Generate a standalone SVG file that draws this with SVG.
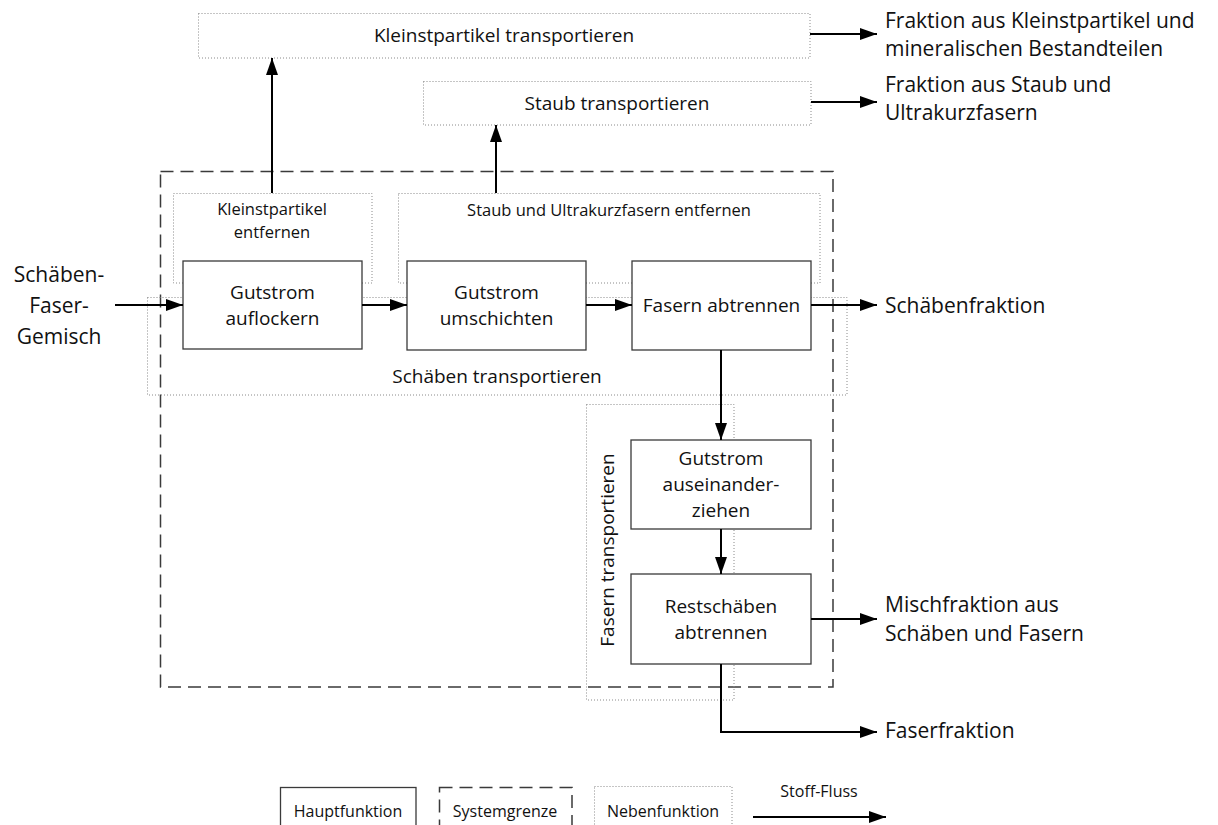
<svg xmlns="http://www.w3.org/2000/svg" width="1218" height="825" viewBox="0 0 1218 825">
<style>
text{font-family:"Open Sans","Noto Sans","Liberation Sans",sans-serif;fill:#111;}
.big{font-size:21px;}
.mid{font-size:19px;text-anchor:middle;}
.sm{font-size:16.5px;text-anchor:middle;}
.lg{font-size:16px;text-anchor:middle;}
.main{fill:#fff;stroke:#3a3a3a;stroke-width:1.3;}
.side{fill:none;stroke:#8a8a8a;stroke-width:1;stroke-dasharray:1 2;}
.sys{fill:none;stroke:#3a3a3a;stroke-width:1.5;stroke-dasharray:13 7;}
.flow{fill:none;stroke:#000;stroke-width:2;marker-end:url(#ah);}
</style>
<defs>
<marker id="ah" markerUnits="userSpaceOnUse" markerWidth="17" markerHeight="12" refX="17" refY="6" orient="auto">
<path d="M0,0 L17,6 L0,12 z" fill="#000"/>
</marker>
</defs>

<g id="system-boundary">
<rect class="sys" x="160.5" y="171.5" width="672.5" height="515.5"/>
</g>

<g id="side-kleinst-transport">
<rect class="side" x="198.5" y="13.5" width="611.5" height="44.5"/>
<text class="mid" x="504" y="42">Kleinstpartikel transportieren</text>
</g>
<g id="side-staub-transport">
<rect class="side" x="423.5" y="81.5" width="387.5" height="43.5"/>
<text class="mid" x="617" y="110">Staub transportieren</text>
</g>
<g id="side-kleinst-entfernen">
<rect class="side" x="173.5" y="193.5" width="198.5" height="89.5"/>
<text class="sm" x="272" y="215">Kleinstpartikel</text>
<text class="sm" x="272" y="238">entfernen</text>
</g>
<g id="side-staub-entfernen">
<rect class="side" x="398.5" y="193.5" width="421.5" height="89.5"/>
<text class="sm" x="609" y="216">Staub und Ultrakurzfasern entfernen</text>
</g>
<g id="side-schaeben-transport">
<rect class="side" x="147.5" y="297.5" width="699.5" height="97.5"/>
<text class="mid" x="497" y="383">Schäben transportieren</text>
</g>
<g id="side-fasern-transport">
<rect class="side" x="586.5" y="404.5" width="147.5" height="295.5"/>
<text class="mid" transform="rotate(-90 614 550)" x="614" y="550">Fasern transportieren</text>
</g>

<g id="n-auflockern">
<rect class="main" x="183" y="261" width="179" height="88"/>
<text class="mid" x="272.5" y="299">Gutstrom</text>
<text class="mid" x="272.5" y="325">auflockern</text>
</g>
<g id="n-umschichten">
<rect class="main" x="407" y="261" width="179" height="89"/>
<text class="mid" x="496.5" y="299">Gutstrom</text>
<text class="mid" x="496.5" y="325">umschichten</text>
</g>
<g id="n-fasern-abtrennen">
<rect class="main" x="632" y="261" width="179" height="89"/>
<text class="mid" x="721.5" y="312">Fasern abtrennen</text>
</g>
<g id="n-auseinanderziehen">
<rect class="main" x="631" y="440" width="180" height="89"/>
<text class="mid" x="721" y="465">Gutstrom</text>
<text class="mid" x="721" y="491">auseinander-</text>
<text class="mid" x="721" y="517">ziehen</text>
</g>
<g id="n-restschaeben">
<rect class="main" x="631" y="574" width="180" height="90"/>
<text class="mid" x="721" y="613">Restschäben</text>
<text class="mid" x="721" y="639">abtrennen</text>
</g>

<g id="connectors">
<path class="flow" d="M272,193 V58"/>
<path class="flow" d="M496,193 V125"/>
<path class="flow" d="M810,34 H877"/>
<path class="flow" d="M811,102 H877"/>
<path class="flow" d="M115,305 H183"/>
<path class="flow" d="M362,305 H407"/>
<path class="flow" d="M586,305 H632"/>
<path class="flow" d="M811,305 H877"/>
<path class="flow" d="M721,350 V440"/>
<path class="flow" d="M721,529 V574"/>
<path class="flow" d="M811,619 H877"/>
<path class="flow" d="M721,664 V732 H877"/>
</g>

<g id="labels">
<text class="big" x="885" y="28">Fraktion aus Kleinstpartikel und</text>
<text class="big" x="885" y="56">mineralischen Bestandteilen</text>
<text class="big" x="885" y="92">Fraktion aus Staub und</text>
<text class="big" x="885" y="120">Ultrakurzfasern</text>
<text class="big" x="885" y="313">Schäbenfraktion</text>
<text class="big" x="885" y="612">Mischfraktion aus</text>
<text class="big" x="885" y="641">Schäben und Fasern</text>
<text class="big" x="885" y="738">Faserfraktion</text>
<text class="big" x="59" y="282" text-anchor="middle">Schäben-</text>
<text class="big" x="59" y="313" text-anchor="middle">Faser-</text>
<text class="big" x="59" y="344" text-anchor="middle">Gemisch</text>
</g>

<g id="legend">
<rect class="main" x="280.5" y="787.5" width="135.5" height="60"/>
<text class="lg" x="348" y="817">Hauptfunktion</text>
<rect class="sys" x="439.5" y="787.5" width="132.5" height="60"/>
<text class="lg" x="505" y="817">Systemgrenze</text>
<rect class="side" x="594.5" y="786.5" width="137.5" height="60"/>
<text class="lg" x="663" y="817">Nebenfunktion</text>
<text class="lg" x="819" y="797">Stoff-Fluss</text>
<path class="flow" d="M753,817 H886"/>
</g>
</svg>
